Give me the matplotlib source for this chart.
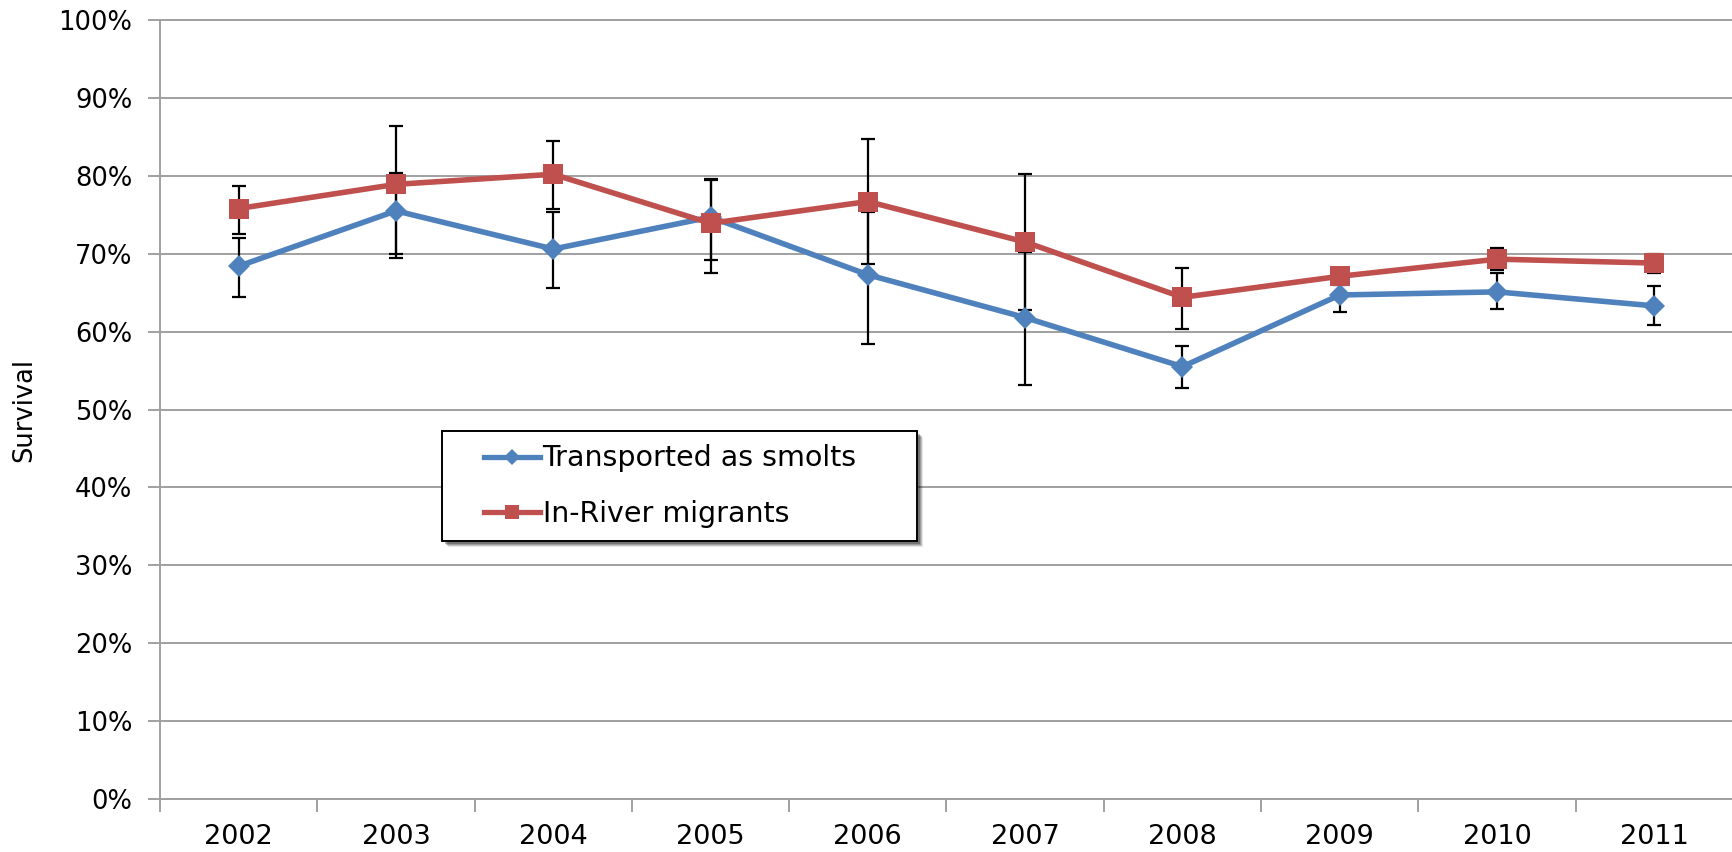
import matplotlib
matplotlib.use("Agg")
import matplotlib.pyplot as plt
from matplotlib.lines import Line2D
from matplotlib.patches import Rectangle
import numpy as np

# survival estimates (%)
years = ["2002", "2003", "2004", "2005", "2006", "2007", "2008", "2009", "2010", "2011"]

transported = [68.4, 75.5, 70.6, 74.7, 67.3, 61.8, 55.5, 64.7, 65.1, 63.3]
transported_lo = [64.5, 69.5, 65.6, 69.2, 58.4, 53.2, 52.8, 62.5, 62.9, 60.9]
transported_hi = [72.0, 80.3, 75.3, 79.6, 75.3, 70.2, 58.2, 66.9, 67.5, 65.8]

inriver = [75.8, 78.9, 80.2, 73.9, 76.7, 71.5, 64.4, 67.1, 69.3, 68.8]
inriver_lo = [72.5, 70.0, 75.8, 67.5, 68.7, 62.8, 60.3, 66.0, 67.9, 67.5]
inriver_hi = [78.7, 86.4, 84.5, 79.4, 84.7, 80.2, 68.2, 68.2, 70.7, 70.0]

labels = ["Transported as smolts", "In-River migrants"]

blue = "#4F81BD"
red = "#C0504D"
grid_col = "#A0A0A0"

plt.rcParams["font.family"] = ["DejaVu Sans"]

W, H = 1733, 852
fig = plt.figure(figsize=(W / 100, H / 100), dpi=100)
ax = fig.add_axes([160 / W, 53 / H, 1 - 160 / W, 779 / H])

x = np.arange(len(years))
t = np.array(transported)
r = np.array(inriver)

# error bars first, so the markers sit on top
ax.errorbar(x, t, yerr=[t - np.array(transported_lo), np.array(transported_hi) - t],
            fmt="none", ecolor="black", elinewidth=1.6, capsize=5, capthick=1.6, zorder=3)
ax.errorbar(x, r, yerr=[r - np.array(inriver_lo), np.array(inriver_hi) - r],
            fmt="none", ecolor="black", elinewidth=1.6, capsize=5, capthick=1.6, zorder=3)

ax.plot(x, t, color=blue, lw=4, marker="D", markersize=11.5, markeredgewidth=0, zorder=4)
ax.plot(x, r, color=red, lw=4, marker="s", markersize=14, markeredgewidth=0, zorder=5)

ax.set_xlim(-0.5, 9.5)
ax.set_ylim(0, 100)

ax.set_yticks(np.arange(0, 101, 10))
ax.set_yticklabels([f"{v}%" for v in range(0, 101, 10)], fontsize=18.5)
ax.yaxis.grid(True, color=grid_col, lw=1.4)
for gl in ax.get_ygridlines():
    gl.set_clip_on(False)
ax.set_axisbelow(True)

ax.set_xticks(np.arange(-0.5, 10, 1))
ax.set_xticklabels([])
ax.set_xticks(x, minor=True)
ax.set_xticklabels(years, minor=True, fontsize=19.5)
ax.tick_params(axis="x", which="major", length=9, color=grid_col, width=1.4, direction="out")
ax.tick_params(axis="x", which="minor", length=0, pad=18)
ax.tick_params(axis="y", length=9, color=grid_col, width=1.4, pad=11)

for s in ["top", "right"]:
    ax.spines[s].set_visible(False)
for s in ["left", "bottom"]:
    ax.spines[s].set_color(grid_col)
    ax.spines[s].set_linewidth(1.4)

fig.text(24 / W, 1 - 409.5 / H, "Survival", rotation=90, fontsize=18.5,
         ha="center", va="center")

# legend box with a soft drop shadow
bx0, by0, bx1, by1 = 442, 431, 917, 541
for k, a in [(6, 0.10), (5, 0.15), (4, 0.20), (3, 0.25)]:
    fig.patches.append(Rectangle(((bx0 + k) / W, 1 - (by1 + k) / H), (bx1 - bx0) / W,
                                 (by1 - by0) / H, transform=fig.transFigure,
                                 facecolor="black", edgecolor="none", alpha=a, zorder=8))
fig.patches.append(Rectangle((bx0 / W, 1 - by1 / H), (bx1 - bx0) / W, (by1 - by0) / H,
                             transform=fig.transFigure, facecolor="white",
                             edgecolor="black", lw=1.4, zorder=9))

handles = [Line2D([], [], color=blue, lw=3.8, marker="D", markersize=8, markeredgewidth=0),
           Line2D([], [], color=red, lw=3.8, marker="s", markersize=10, markeredgewidth=0)]
leg = fig.legend(handles, labels, loc="center",
                 bbox_to_anchor=((bx0 + bx1) / 2 / W - 9 / W, 1 - (by0 + by1) / 2 / H),
                 fontsize=20.5, frameon=False, handlelength=1.95, handletextpad=0.1,
                 borderpad=0, labelspacing=0.95, borderaxespad=0)
leg.set_zorder(10)

fig.savefig("out.png", dpi=100)
